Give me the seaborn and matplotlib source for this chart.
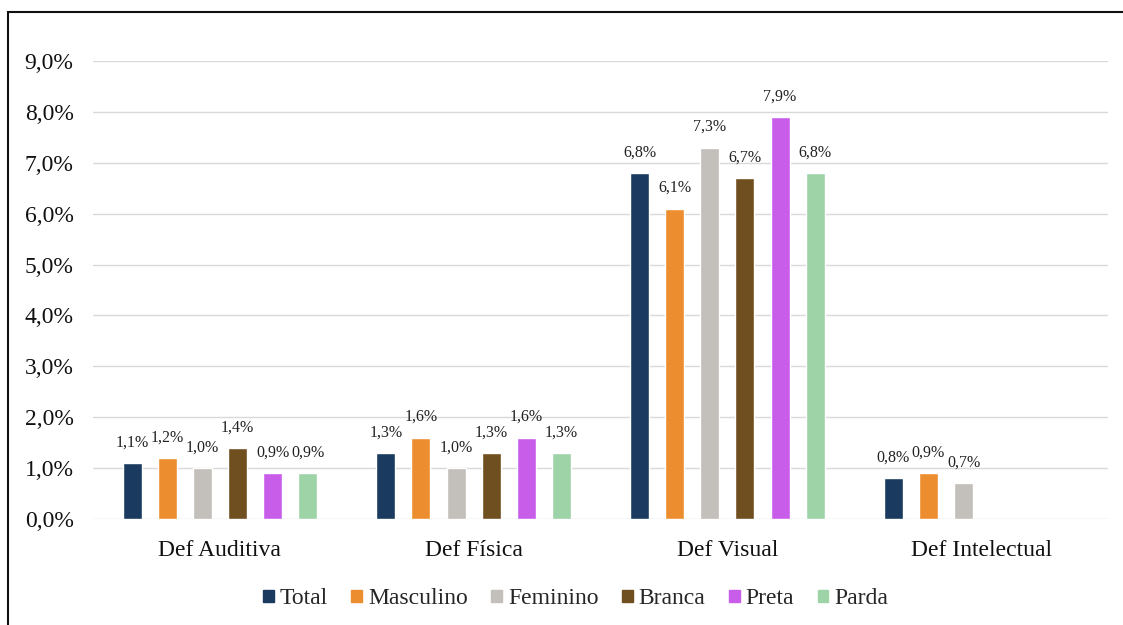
import matplotlib
matplotlib.use("Agg")
import matplotlib.pyplot as plt
import matplotlib.patches as mpatches
import seaborn as sns
import numpy as np
import pandas as pd

# dados (%)
categorias = ["Def Auditiva", "Def Física", "Def Visual", "Def Intelectual"]
grupos = ["Total", "Masculino", "Feminino", "Branca", "Preta", "Parda"]
total = [1.1, 1.3, 6.8, 0.8]
masculino = [1.2, 1.6, 6.1, 0.9]
feminino = [1.0, 1.0, 7.3, 0.7]
branca = [1.4, 1.3, 6.7, np.nan]
preta = [0.9, 1.6, 7.9, np.nan]
parda = [0.9, 1.3, 6.8, np.nan]
cores = ["#1b3a5f", "#ec8e2f", "#c3bfba", "#6f4e1f", "#c85de9", "#9dd3a7"]

serie = dict(zip(grupos, [total, masculino, feminino, branca, preta, parda]))
rows = []
for g in grupos:
    for cat, v in zip(categorias, serie[g]):
        if np.isfinite(v):
            rows.append({"categoria": cat, "grupo": g, "valor": v})
df = pd.DataFrame(rows)

sns.set_theme(style="white")
plt.rcParams["font.family"] = ["Liberation Serif", "DejaVu Serif"]

fig = plt.figure(figsize=(11.23, 6.25), dpi=100)
ax = fig.add_axes([93 / 1123, 1 - 519 / 625, (1108 - 93) / 1123, (519 - 61) / 625])

sns.barplot(data=df, x="categoria", y="valor", hue="grupo", order=categorias,
            hue_order=grupos, palette=cores, width=0.83, gap=0.46,
            saturation=1, ax=ax, legend=False)

def pct(v):
    return f"{v:.1f}%".replace(".", ",")

for c in ax.containers:
    labs = [pct(v) if np.isfinite(v) else "" for v in c.datavalues]
    ax.bar_label(c, labels=labs, padding=9, fontsize=11.5, color="#222222")

ax.set_ylim(0, 9)
ax.set_xlim(-0.5, 3.5)
ax.set_yticks(range(0, 10))
ax.set_yticklabels([pct(v) for v in range(0, 10)])
ax.yaxis.grid(True, color="#d9d9d9", linewidth=1)
ax.set_axisbelow(True)
for s in ax.spines.values():
    s.set_visible(False)
ax.tick_params(axis="y", length=0, pad=14, labelsize=17, labelcolor="#111111")
ax.tick_params(axis="x", length=0, pad=15, labelsize=17, labelcolor="#111111")
ax.set_xlabel("")
ax.set_ylabel("")

handles = [mpatches.Patch(color=c, label=g) for g, c in zip(grupos, cores)]
fig.legend(handles=handles, loc="center", bbox_to_anchor=(575.5 / 1123, 1 - 599 / 625),
           ncol=6, frameon=False, fontsize=17, handlelength=0.45, handleheight=0.45,
           handletextpad=0.25, columnspacing=1.0)

# moldura da figura
fig.patches.append(mpatches.Rectangle((8 / 1123, -0.1), 1.2, 1 - 12 / 625 + 0.1,
                                      transform=fig.transFigure, fill=False,
                                      edgecolor="#111111", linewidth=1.5))

fig.savefig("out.png", dpi=100)
